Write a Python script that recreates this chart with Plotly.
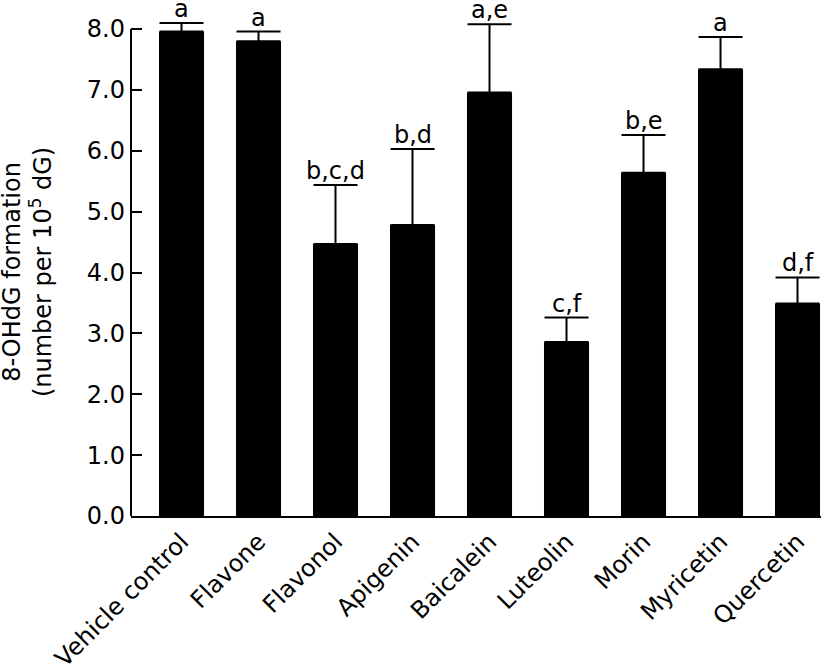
import plotly.graph_objects as go

categories = ["Vehicle control", "Flavone", "Flavonol", "Apigenin", "Baicalein",
              "Luteolin", "Morin", "Myricetin", "Quercetin"]
values = [7.96, 7.80, 4.47, 4.78, 6.96, 2.86, 5.64, 7.34, 3.49]
errors = [0.14, 0.16, 0.97, 1.25, 1.12, 0.40, 0.62, 0.53, 0.43]
letters = ["a", "a", "b,c,d", "b,d", "a,e", "c,f", "b,e", "a", "d,f"]
y_ticks = [0, 1, 2, 3, 4, 5, 6, 7, 8]
y_title = "8-OHdG formation<br>(number per 10<sup>5</sup> dG)"

FONT = "DejaVu Sans"

fig = go.Figure()
fig.add_trace(go.Bar(
    x=list(range(len(categories))),
    y=values,
    marker=dict(color="black", line=dict(width=0)),
    width=0.585,
    error_y=dict(type="data", array=errors, arrayminus=[0] * len(errors),
                 symmetric=False, color="black", thickness=2, width=22),
    cliponaxis=False,
    showlegend=False,
))

for i, (v, e, t) in enumerate(zip(values, errors, letters)):
    fig.add_annotation(x=i, y=v + e, text=t, showarrow=False,
                       yanchor="bottom", yshift=-2,
                       font=dict(family=FONT, size=24, color="black"))

# y-axis title centred on the tick span (0 to 8), as in the reference
fig.add_annotation(xref="paper", yref="y", x=0, y=(y_ticks[0] + y_ticks[-1]) / 2,
                   text=y_title, textangle=-90, showarrow=False,
                   xanchor="right", yanchor="middle", xshift=-72,
                   font=dict(family=FONT, size=24, color="black"))

# y-axis line drawn only up to the top tick (as in the reference)
fig.add_shape(type="line", xref="paper", yref="y", x0=0, x1=0,
              y0=y_ticks[0], y1=y_ticks[-1],
              line=dict(color="black", width=2))

fig.update_layout(
    width=825, height=672,
    margin=dict(l=131, r=4, t=0, b=156),
    plot_bgcolor="white", paper_bgcolor="white",
    font=dict(family=FONT, color="black"),
)
fig.update_xaxes(
    range=[-0.656, 8.305],
    tickmode="array", tickvals=list(range(len(categories))), ticktext=categories,
    tickangle=-45, ticks="", showline=True, linecolor="black", linewidth=2,
    showgrid=False, zeroline=False, tickfont=dict(family=FONT, size=24),
)
fig.update_yaxes(
    range=[0, 8.478],
    tickmode="array", tickvals=y_ticks, ticktext=[f"{v:.1f}" for v in y_ticks],
    ticks="inside", ticklen=11, tickwidth=2, tickcolor="black",
    ticklabelstandoff=5,
    showline=False, showgrid=False, zeroline=False,
    tickfont=dict(family=FONT, size=24),
)

fig.write_html("out.html", config={"displayModeBar": False},
               post_script="document.body.style.margin='0';")
